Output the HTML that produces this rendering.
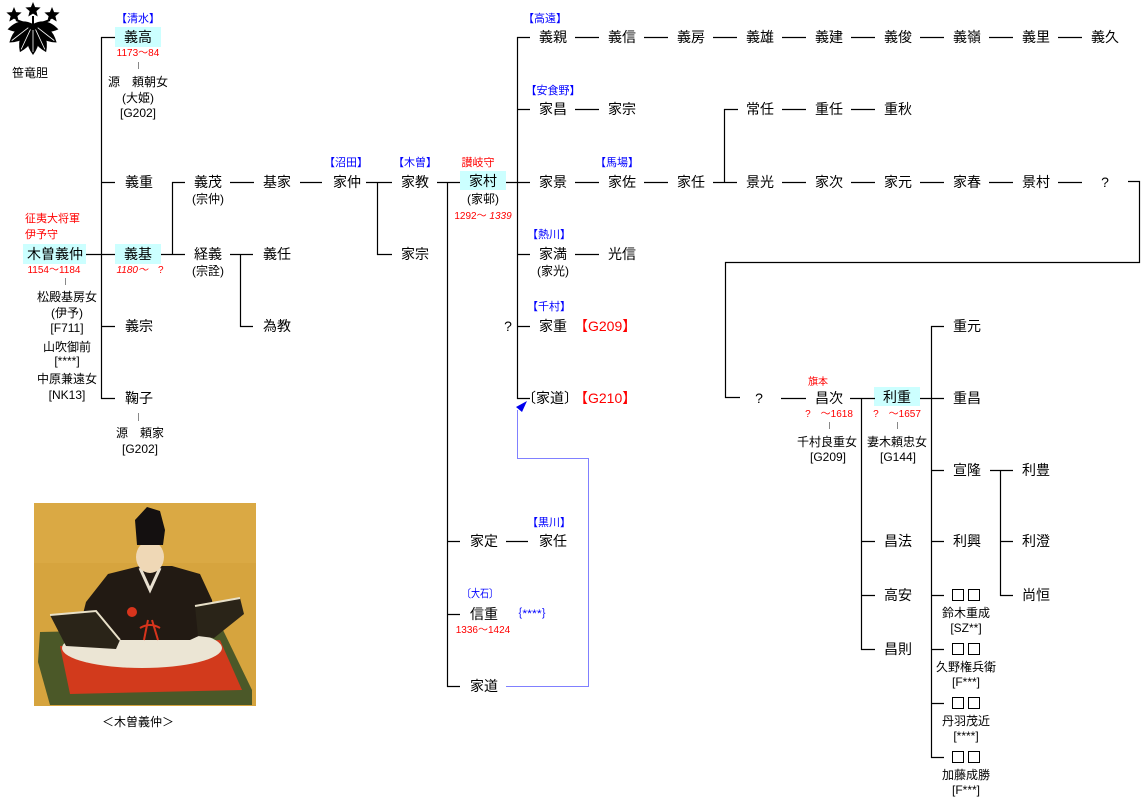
<!DOCTYPE html>
<html><head><meta charset="utf-8">
<style>
html,body{margin:0;padding:0;background:#fff;}
svg{display:block;}
text{font-family:"Liberation Sans","Noto Sans CJK JP",sans-serif;}
.n{font-size:14px;fill:#000;text-anchor:middle;}
.s{font-size:12px;fill:#000;text-anchor:middle;}
.b{font-size:11px;fill:#00f;text-anchor:middle;}
.r{font-size:10px;fill:#f00;text-anchor:middle;}
.rm{font-size:11px;fill:#f00;text-anchor:middle;}
.rl{font-size:11px;fill:#f00;}
.rb{font-size:14px;fill:#f00;}
</style></head><body>
<svg width="1141" height="804" viewBox="0 0 1141 804" xmlns="http://www.w3.org/2000/svg">
<rect width="1141" height="804" fill="#fff"/>

<!-- crest -->
<g fill="#000">
  <g transform="translate(33,24)">
    <path d="M0,0 Q12,15 0,31 Q-12,15 0,0 Z"/>
    <path d="M0,0 Q12,15 0,31 Q-12,15 0,0 Z" transform="rotate(25)"/>
    <path d="M0,0 Q12,15 0,31 Q-12,15 0,0 Z" transform="rotate(-25)"/>
    <path d="M0,0 Q12,14 0,30 Q-12,14 0,0 Z" transform="rotate(52)"/>
    <path d="M0,0 Q12,14 0,30 Q-12,14 0,0 Z" transform="rotate(-52)"/>
    <path d="M0,0 Q10,12 0,26 Q-10,12 0,0 Z" transform="rotate(78)"/>
    <path d="M0,0 Q10,12 0,26 Q-10,12 0,0 Z" transform="rotate(-78)"/>
    <g stroke="#fff" stroke-width="0.8" fill="none">
      <path d="M0,6 V28"/>
      <path d="M0,6 V28" transform="rotate(25)"/>
      <path d="M0,6 V28" transform="rotate(-25)"/>
      <path d="M0,6 V27" transform="rotate(52)"/>
      <path d="M0,6 V27" transform="rotate(-52)"/>
    </g>
  </g>
  <polygon transform="translate(14,15)" points="0,-8 2.1,-2.9 7.6,-2.5 3.4,1.1 4.7,6.5 0,3.6 -4.7,6.5 -3.4,1.1 -7.6,-2.5 -2.1,-2.9"/>
  <polygon transform="translate(33,10)" points="0,-8 2.1,-2.9 7.6,-2.5 3.4,1.1 4.7,6.5 0,3.6 -4.7,6.5 -3.4,1.1 -7.6,-2.5 -2.1,-2.9"/>
  <polygon transform="translate(52,15)" points="0,-8 2.1,-2.9 7.6,-2.5 3.4,1.1 4.7,6.5 0,3.6 -4.7,6.5 -3.4,1.1 -7.6,-2.5 -2.1,-2.9"/>
  <path d="M16,20 L30,25 M33,16 V25 M50,20 L36,25" stroke="#000" stroke-width="2"/>
</g>
<text class="s" x="30" y="77">笹竜胆</text>

<!-- highlight boxes -->
<rect x="115" y="27" width="46" height="20" fill="#ccffff"/>
<rect x="23" y="244" width="63" height="20" fill="#ccffff"/>
<rect x="115" y="244" width="46" height="20" fill="#ccffff"/>
<rect x="460" y="171" width="46" height="19" fill="#ccffff"/>
<rect x="874" y="387" width="46" height="19" fill="#ccffff"/>

<!-- connector lines -->
<path fill="none" stroke="#000" stroke-width="1.2" d="
M101.5,37 V399
M101,37.5 H115 M101,182.5 H115 M86,254.5 H115 M101,326.5 H115 M101,398.5 H115
M161,254.5 H185 M172.5,182 V255 M172,182.5 H185
M230,182.5 H254 M300,182.5 H322
M230,254.5 H253 M240.5,254 V327 M240,326.5 H253
M366,182.5 H392 M377.5,182 V255 M377,254.5 H392
M437,182.5 H460 M447.5,182 V687 M447,541.5 H460 M447,614.5 H460 M447,686.5 H460
M506,182.5 H530 M517.5,37 V399
M517,37.5 H530 M517,109.5 H530 M517,254.5 H530 M517,326.5 H530 M517,398.5 H530
M575,37.5 H599 M644,37.5 H668 M713,37.5 H737 M782,37.5 H806 M851,37.5 H875 M920,37.5 H944 M989,37.5 H1013 M1058,37.5 H1082
M575,109.5 H599 M724.5,109 V183 M724,109.5 H738 M782,109.5 H806 M851,109.5 H875
M575,182.5 H599 M644,182.5 H668 M713,182.5 H737
M782,182.5 H806 M851,182.5 H875 M920,182.5 H944 M989,182.5 H1013 M1058,182.5 H1082
M1128,181.5 H1139.5 V262.5 H725.5 V397.5 H740
M575,254.5 H599
M506,541.5 H528
M781,398.5 H806
M850,398.5 H875 M861.5,398 V650 M861,541.5 H875 M861,595.5 H875 M861,649.5 H875
M920,398.5 H944 M931.5,326 V758
M931,326.5 H944 M931,470.5 H944 M931,541.5 H944 M931,595.5 H944 M931,649.5 H944 M931,703.5 H944 M931,757.5 H944
M990,470.5 H1013 M1000.5,470 V596 M1000,541.5 H1013 M1000,595.5 H1013
"/>

<!-- gray ticks -->
<path fill="none" stroke="#888" stroke-width="1" d="M138.5,62 V69 M65.5,278 V285 M138.5,413 V421 M829.5,422 V429 M897.5,422 V429"/>

<!-- blue arrow path -->
<path fill="none" stroke="#8080ff" stroke-width="1" d="M506,686.5 H588.5 V458.5 H517.5 V410"/>
<polygon points="527,401 516,407 522,412" fill="#0000ee"/>

<!-- left column -->
<text class="b" x="138" y="22">【清水】</text>
<text class="n" x="138" y="42">義高</text>
<text class="r" x="138" y="56">1173〜84</text>
<text class="s" x="138" y="86">源　頼朝女</text>
<text class="s" x="138" y="102">(大姫)</text>
<text class="s" x="138" y="117">[G202]</text>
<text class="n" x="139" y="187">義重</text>
<text class="rl" x="25" y="222">征夷大将軍</text>
<text class="rl" x="25" y="238">伊予守</text>
<text class="n" x="55" y="259">木曽義仲</text>
<text class="r" x="54" y="273">1154〜1184</text>
<text class="s" x="67" y="301">松殿基房女</text>
<text class="s" x="67" y="317">(伊予)</text>
<text class="s" x="67" y="332">[F711]</text>
<text class="s" x="67" y="351">山吹御前</text>
<text class="s" x="67" y="365">[****]</text>
<text class="s" x="67" y="383">中原兼遠女</text>
<text class="s" x="67" y="399">[NK13]</text>
<text class="n" x="138" y="259">義基</text>
<text class="r" x="140" y="273"><tspan font-style="italic">1180〜</tspan>　?</text>
<text class="n" x="139" y="331">義宗</text>
<text class="n" x="139" y="403">鞠子</text>
<text class="s" x="140" y="437">源　頼家</text>
<text class="s" x="140" y="453">[G202]</text>

<text class="n" x="208" y="187">義茂</text>
<text class="s" x="208" y="203">(宗仲)</text>
<text class="n" x="208" y="259">経義</text>
<text class="s" x="208" y="275">(宗詮)</text>
<text class="n" x="277" y="187">基家</text>
<text class="n" x="277" y="259">義任</text>
<text class="n" x="277" y="331">為教</text>
<text class="b" x="346" y="166">【沼田】</text>
<text class="n" x="347" y="187">家仲</text>
<text class="b" x="415" y="166">【木曽】</text>
<text class="n" x="415" y="187">家教</text>
<text class="n" x="415" y="259">家宗</text>
<text class="rm" x="478" y="166">讃岐守</text>
<text class="n" x="483" y="186">家村</text>
<text class="s" x="483" y="203">(家邨)</text>
<text class="r" x="483" y="219">1292〜 <tspan font-style="italic">1339</tspan></text>

<!-- Row A -->
<text class="b" x="545" y="22">【高遠】</text>
<text class="n" x="553" y="42">義親</text>
<text class="n" x="622" y="42">義信</text>
<text class="n" x="691" y="42">義房</text>
<text class="n" x="760" y="42">義雄</text>
<text class="n" x="829" y="42">義建</text>
<text class="n" x="898" y="42">義俊</text>
<text class="n" x="967" y="42">義嶺</text>
<text class="n" x="1036" y="42">義里</text>
<text class="n" x="1105" y="42">義久</text>

<!-- Row B -->
<text class="b" x="553" y="94">【安食野】</text>
<text class="n" x="553" y="114">家昌</text>
<text class="n" x="622" y="114">家宗</text>
<text class="n" x="760" y="114">常任</text>
<text class="n" x="829" y="114">重任</text>
<text class="n" x="898" y="114">重秋</text>

<!-- Row C -->
<text class="n" x="553" y="187">家景</text>
<text class="b" x="617" y="166">【馬場】</text>
<text class="n" x="622" y="187">家佐</text>
<text class="n" x="691" y="187">家任</text>
<text class="n" x="760" y="187">景光</text>
<text class="n" x="829" y="187">家次</text>
<text class="n" x="898" y="187">家元</text>
<text class="n" x="967" y="187">家春</text>
<text class="n" x="1036" y="187">景村</text>
<text class="n" x="1105" y="187">?</text>

<!-- Row D/E/F middle -->
<text class="b" x="549" y="238">【熱川】</text>
<text class="n" x="553" y="259">家満</text>
<text class="s" x="553" y="275">(家光)</text>
<text class="n" x="622" y="259">光信</text>
<text class="b" x="549" y="310">【千村】</text>
<text class="n" x="508" y="331">?</text>
<text class="n" x="553" y="331">家重</text>
<text class="rb" x="574" y="331">【G209】</text>
<text class="n" x="550" y="403">〔家道〕</text>
<text class="rb" x="574" y="403">【G210】</text>

<text class="b" x="549" y="526">【黒川】</text>
<text class="n" x="484" y="546">家定</text>
<text class="n" x="553" y="546">家任</text>
<text class="b" x="480" y="597" textLength="36" lengthAdjust="spacingAndGlyphs">〔大石〕</text>
<text class="n" x="484" y="619">信重</text>
<text class="b" x="532" y="617" textLength="44" lengthAdjust="spacingAndGlyphs">｛****｝</text>
<text class="r" x="483" y="633">1336〜1424</text>
<text class="n" x="484" y="691">家道</text>

<!-- right lower -->
<text class="n" x="759" y="403">?</text>
<text class="r" x="818" y="385">旗本</text>
<text class="n" x="829" y="403">昌次</text>
<text class="r" x="829" y="417">?　〜1618</text>
<text class="s" x="827" y="446">千村良重女</text>
<text class="s" x="828" y="461">[G209]</text>
<text class="n" x="897" y="402">利重</text>
<text class="r" x="897" y="417">?　〜1657</text>
<text class="s" x="897" y="446">妻木頼忠女</text>
<text class="s" x="898" y="461">[G144]</text>

<text class="n" x="967" y="331">重元</text>
<text class="n" x="967" y="403">重昌</text>
<text class="n" x="967" y="475">宣隆</text>
<text class="n" x="967" y="546">利興</text>

<g fill="none" stroke="#000" stroke-width="1">
  <rect x="952.5" y="589.5" width="11" height="11"/><rect x="968.5" y="589.5" width="11" height="11"/>
  <rect x="952.5" y="643.5" width="11" height="11"/><rect x="968.5" y="643.5" width="11" height="11"/>
  <rect x="952.5" y="697.5" width="11" height="11"/><rect x="968.5" y="697.5" width="11" height="11"/>
  <rect x="952.5" y="751.5" width="11" height="11"/><rect x="968.5" y="751.5" width="11" height="11"/>
</g>
<text class="s" x="966" y="617">鈴木重成</text>
<text class="s" x="966" y="632">[SZ**]</text>
<text class="s" x="966" y="671">久野権兵衛</text>
<text class="s" x="966" y="686">[F***]</text>
<text class="s" x="966" y="725">丹羽茂近</text>
<text class="s" x="966" y="740">[****]</text>
<text class="s" x="966" y="779">加藤成勝</text>
<text class="s" x="966" y="794">[F***]</text>

<text class="n" x="898" y="546">昌法</text>
<text class="n" x="898" y="600">高安</text>
<text class="n" x="898" y="654">昌則</text>
<text class="n" x="1036" y="475">利豊</text>
<text class="n" x="1036" y="546">利澄</text>
<text class="n" x="1036" y="600">尚恒</text>

<!-- painting -->
<g>
  <rect x="34" y="503" width="222" height="203" fill="#d6a43e"/>
  <rect x="34" y="503" width="222" height="60" fill="#dcae4a" opacity="0.6"/>
  <polygon points="40,632 222,628 252,690 252,705 50,705 38,662" fill="#4b5828"/>
  <polygon points="60,646 220,640 242,690 70,694" fill="#d23a1c"/>
  <ellipse cx="142" cy="648" rx="80" ry="20" fill="#ebe5d4"/>
  <polygon points="86,602 108,574 140,566 172,566 200,574 212,600 216,628 190,640 100,640 80,626" fill="#221a13"/>
  <polygon points="50,615 96,611 120,640 116,649 66,646" fill="#2a2418"/>
  <path d="M50,615 L96,611 L120,640" fill="none" stroke="#e8e0c8" stroke-width="2"/>
  <polygon points="195,606 240,598 244,614 214,638 198,636" fill="#2a2418"/>
  <path d="M195,606 L240,598" fill="none" stroke="#e8e0c8" stroke-width="2"/>
  <path d="M140,568 L150,590 L160,568" fill="none" stroke="#e8e0d0" stroke-width="3"/>
  <ellipse cx="150" cy="557" rx="14" ry="16" fill="#efd8b6"/>
  <path d="M137,545 L135,520 L147,507 L160,511 L165,530 L163,545 Z" fill="#141010"/>
  <circle cx="132" cy="612" r="5" fill="#d8341c"/>
  <path d="M148,620 L144,640 M152,620 L158,640 M140,628 Q150,622 160,628" fill="none" stroke="#d8341c" stroke-width="2"/>
</g>
<text class="s" x="138" y="726">＜木曽義仲＞</text>
</svg>
</body></html>
